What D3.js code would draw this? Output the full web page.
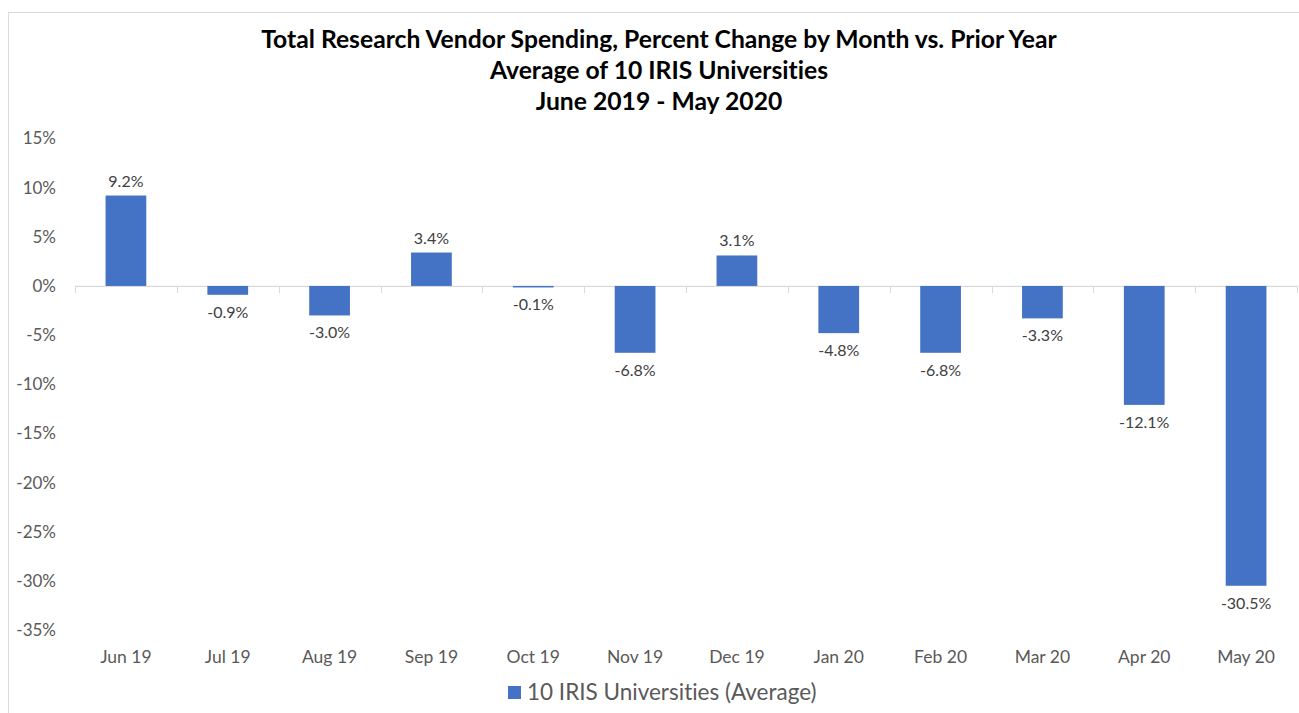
<!DOCTYPE html>
<html>
<head>
<meta charset="utf-8">
<script src="https://cdn.jsdelivr.net/npm/d3@7"></script>
<style>
  body { margin: 0; background: #fff; }
  svg { display: block; font-family: Lato, "Liberation Sans", sans-serif; font-variant-ligatures: none; }
</style>
</head>
<body>
<svg id="chart" width="1299" height="713"></svg>
<script>
const months = ["Jun 19", "Jul 19", "Aug 19", "Sep 19", "Oct 19", "Nov 19",
    "Dec 19", "Jan 20", "Feb 20", "Mar 20", "Apr 20", "May 20"],
    values = [9.2, -0.9, -3.0, 3.4, -0.1, -6.8, 3.1, -4.8, -6.8, -3.3, -12.1, -30.5],
    yTicks = [15, 10, 5, 0, -5, -10, -15, -20, -25, -30, -35],
    titleLines = ["Total Research Vendor Spending, Percent Change by Month vs. Prior Year",
        "Average of 10 IRIS Universities", "June 2019 - May 2020"],
    seriesName = "10 IRIS Universities (Average)";

const svg = d3.select('#chart'),
    margin = {left: 75, right: 2},
    width = 1299;

// chart frame (cropped at right / bottom like the source)
svg.append('rect')
    .attr('x', 8.5).attr('y', 12.5)
    .attr('width', 1310).attr('height', 720)
    .attr('fill', 'none').attr('stroke', '#d9d9d9');

const x = d3.scaleBand()
    .domain(months)
    .range([margin.left, width - margin.right])
    .paddingInner(0.6).paddingOuter(0.3);

const y = d3.scaleLinear()
    .domain([-35, 15])
    .range([630, 138.5]);

// title
svg.append('g').selectAll('text')
    .data(titleLines)
    .join('text')
    .attr('x', 659).attr('y', (d, i) => 48 + i * 31)
    .attr('text-anchor', 'middle')
    .attr('font-size', 24.7).attr('font-weight', 'bold')
    .attr('fill', '#000')
    .text(d => d);

// y axis labels
const yAxis = d3.axisLeft(y).tickValues(yTicks).tickSize(0).tickPadding(0)
    .tickFormat(d => d + '%');
const gy = svg.append('g').attr('transform', 'translate(56,0)').call(yAxis);
gy.select('.domain').remove();
gy.selectAll('text').attr('font-size', 17).attr('fill', '#595959')
    .attr('font-family', 'Lato, "Liberation Sans", sans-serif');

// zero axis with category tick marks
const step = x.step(),
    bounds = d3.range(months.length + 1).map(i => margin.left + i * step);
svg.append('line')
    .attr('x1', margin.left).attr('x2', width - margin.right)
    .attr('y1', y(0) + 0.5).attr('y2', y(0) + 0.5)
    .attr('stroke', '#d9d9d9').attr('stroke-width', 1.2);
svg.append('g').selectAll('line')
    .data(bounds)
    .join('line')
    .attr('x1', d => Math.round(d) + 0.5).attr('x2', d => Math.round(d) + 0.5)
    .attr('y1', y(0)).attr('y2', y(0) + 7)
    .attr('stroke', '#d9d9d9');

// bars
svg.append('g').selectAll('rect')
    .data(values)
    .join('rect')
    .attr('x', (d, i) => x(months[i]))
    .attr('width', x.bandwidth())
    .attr('y', d => y(Math.max(0, d)))
    .attr('height', d => Math.max(1.5, Math.abs(y(d) - y(0))))
    .attr('fill', '#4472c4');

// data labels
svg.append('g').selectAll('text')
    .data(values)
    .join('text')
    .attr('x', (d, i) => x(months[i]) + x.bandwidth() / 2)
    .attr('y', d => d >= 0 ? y(d) - 9 : y(d) + 23)
    .attr('text-anchor', 'middle')
    .attr('font-size', 16).attr('fill', '#404040')
    .text(d => d.toFixed(1) + '%');

// category labels
svg.append('g').selectAll('text')
    .data(months)
    .join('text')
    .attr('x', d => x(d) + x.bandwidth() / 2)
    .attr('y', 663)
    .attr('text-anchor', 'middle')
    .attr('font-size', 17.5).attr('fill', '#595959')
    .text(d => d);

// legend
const legend = svg.append('g');
legend.append('rect')
    .attr('x', 508).attr('y', 686).attr('width', 13).attr('height', 13)
    .attr('fill', '#4472c4');
legend.append('text')
    .attr('x', 527).attr('y', 700)
    .attr('font-size', 22.5).attr('fill', '#595959')
    .text(seriesName);
</script>
</body>
</html>
